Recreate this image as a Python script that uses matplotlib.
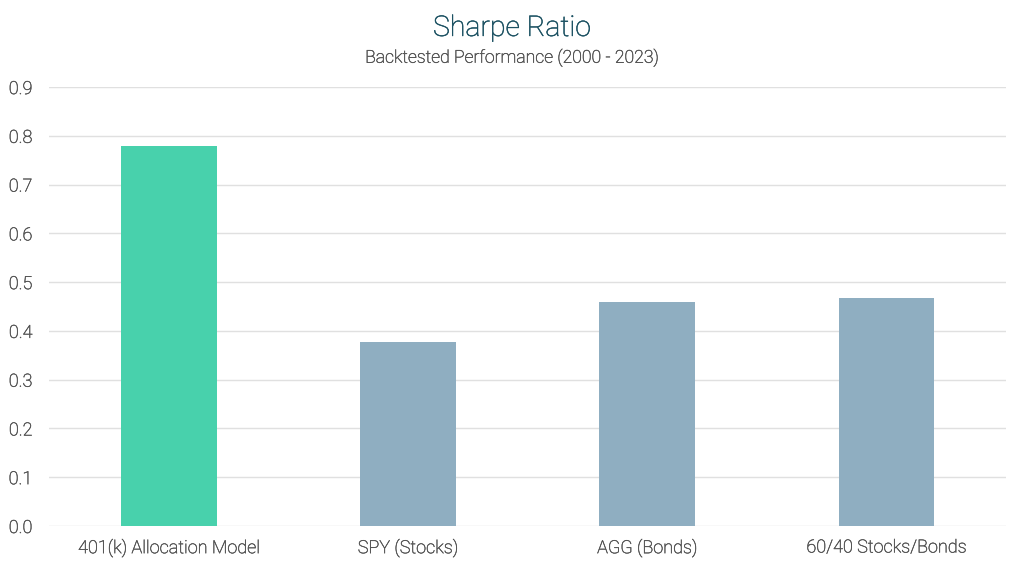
import matplotlib.pyplot as plt
import matplotlib.patheffects as pe

# Chart data
categories = ['401(k) Allocation Model', 'SPY (Stocks)', 'AGG (Bonds)', '60/40 Stocks/Bonds']
sharpe = [0.78, 0.377, 0.459, 0.467]
colors = ['#48d1ac', '#8faec1', '#8faec1', '#8faec1']
yticks = [0.0, 0.1, 0.2, 0.3, 0.4, 0.5, 0.6, 0.7, 0.8, 0.9]

plt.rcParams['font.family'] = ['Roboto', 'DejaVu Sans']

fig = plt.figure(figsize=(10.24, 5.69), dpi=100)
ax = fig.add_axes([0.0479, 0.0756, 0.9345, 0.7714])

x = range(len(categories))
ax.bar(x, sharpe, width=0.4, color=colors, zorder=3)

ax.set_xlim(-0.5, len(categories) - 0.5)
ax.set_ylim(0, 0.9)
ax.set_yticks(yticks)
ax.set_yticklabels([f'{v:.1f}' for v in yticks])
ax.set_xticks(list(x))
ax.set_xticklabels(categories)

grey = '#555555'
thicken = [pe.withStroke(linewidth=0.35, foreground=grey)]

ax.grid(axis='y', color='#e0e0e0', linewidth=1, zorder=0)
for s in ax.spines.values():
    s.set_visible(False)
ax.tick_params(axis='both', length=0, labelsize=13, labelcolor=grey)
ax.tick_params(axis='x', pad=9)
ax.tick_params(axis='y', pad=12)
for lbl in ax.get_xticklabels() + ax.get_yticklabels():
    lbl.set_fontweight('light')
    lbl.set_path_effects(thicken)

fig.text(0.5, 0.950, 'Sharpe Ratio', ha='center', va='center',
         fontsize=20.5, color='#1a5061', fontweight='light',
         path_effects=[pe.withStroke(linewidth=0.35, foreground='#1a5061')])
fig.text(0.5, 0.899, 'Backtested Performance (2000 - 2023)', ha='center', va='center',
         fontsize=12.7, color=grey, fontweight='light', path_effects=thicken)

plt.savefig('out.png', dpi=100)
